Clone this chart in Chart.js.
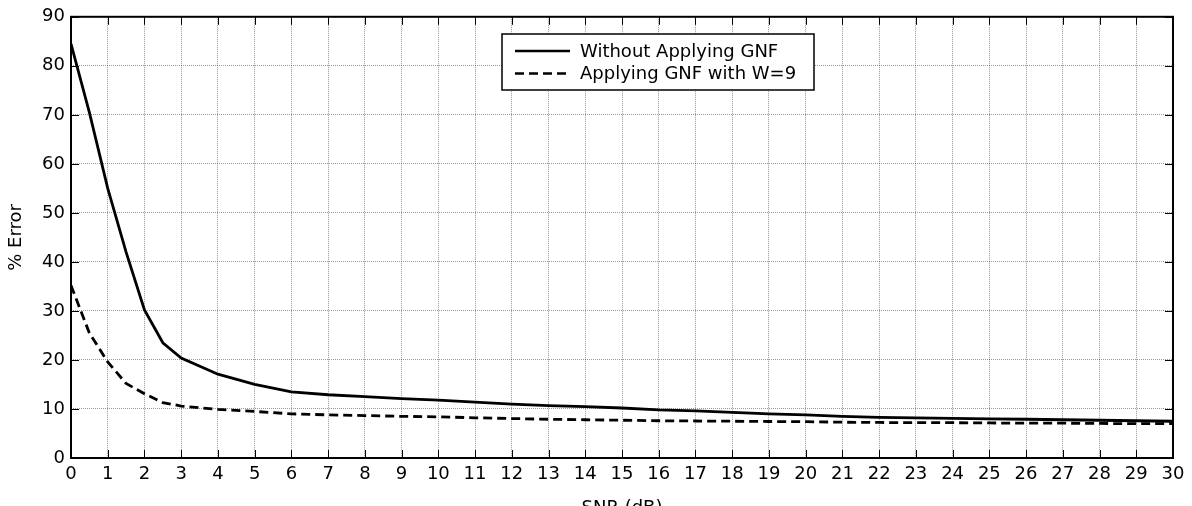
<!DOCTYPE html>
<html>
<head>
<meta charset="utf-8">
<script src="https://cdn.jsdelivr.net/npm/chart.js@4/dist/chart.umd.min.js"></script>
<style>
body{margin:0;background:#fff;}
#wrap{width:1192px;height:506px;position:relative;}
</style>
</head>
<body>
<div id="wrap"><canvas id="Grafico1"></canvas></div>
<script>
// SNR values (dB)
const snr=[0,0.5,1,1.5,2,2.5,3,4,5,6,7,8,9,10,11,12,13,14,15,16,17,18,19,20,21,22,23,24,25,26,27,28,29,30];
// % error without GNF
const sinGNF=[84.5,70.5,55,42,30.2,23.5,20.4,17.1,15,13.5,12.9,12.5,12.1,11.8,11.4,11.0,10.7,10.5,10.2,9.8,9.6,9.3,9.0,8.8,8.5,8.3,8.2,8.1,8.0,7.9,7.8,7.7,7.6,7.5];
// % error with GNF W=9
const conGNF=[35.2,25.5,19.6,15.2,13.1,11.3,10.6,9.9,9.5,9.0,8.8,8.65,8.5,8.4,8.2,8.05,7.9,7.8,7.7,7.6,7.55,7.5,7.45,7.4,7.3,7.25,7.2,7.2,7.15,7.1,7.1,7.05,7.0,7.0];
const etiquetas=['Without Applying GNF','Applying GNF with W=9'];
const ticksX=[];
for(let i=0;i<=30;i++){ticksX.push(i);}
const ticksY=[0,10,20,30,40,50,60,70,80,90];

const fuente='"DejaVu Sans", sans-serif';

function puntos(xs,ys){
    return xs.map((x,i)=>({x:x,y:ys[i]}));
}

// box, inward ticks and legend
const marco={
    id:'marco',
    afterDraw(chart){
        const ctx=chart.ctx;
        const a=chart.chartArea;
        const sx=chart.scales.x, sy=chart.scales.y;
        ctx.save();
        ctx.strokeStyle='#000';
        ctx.lineWidth=1;
        ticksX.forEach(v=>{
            const px=Math.round(sx.getPixelForValue(v))+0.5;
            ctx.beginPath();
            ctx.moveTo(px,a.bottom);ctx.lineTo(px,a.bottom-8);
            ctx.moveTo(px,a.top);ctx.lineTo(px,a.top+8);
            ctx.stroke();
        });
        ticksY.forEach(v=>{
            const py=Math.round(sy.getPixelForValue(v))+0.5;
            ctx.beginPath();
            ctx.moveTo(a.left,py);ctx.lineTo(a.left+8,py);
            ctx.moveTo(a.right,py);ctx.lineTo(a.right-8,py);
            ctx.stroke();
        });
        ctx.lineWidth=2;
        ctx.strokeRect(a.left,a.top,a.right-a.left,a.bottom-a.top);

        // legend
        const lx=502, ly=34, lw=312, lh=56;
        ctx.fillStyle='#fff';
        ctx.fillRect(lx,ly,lw,lh);
        ctx.lineWidth=1.5;
        ctx.strokeRect(lx,ly,lw,lh);
        ctx.font='18px '+fuente;
        ctx.textBaseline='middle';
        chart.data.datasets.forEach((ds,i)=>{
            const y=ly+17+i*22.5;
            ctx.strokeStyle='#000';
            ctx.lineWidth=2.5;
            ctx.setLineDash(ds.borderDash||[]);
            ctx.beginPath();
            ctx.moveTo(515,y);ctx.lineTo(570,y);
            ctx.stroke();
            ctx.setLineDash([]);
            ctx.fillStyle='#000';
            ctx.fillText(ds.label,580,y+1);
        });
        ctx.restore();
    }
};

let CanvasG1=document.getElementById('Grafico1').getContext('2d');
let datos={
    datasets:[
        {
            label:etiquetas[0],
            data:puntos(snr,sinGNF),
            borderColor:'#000',
            borderWidth:2.8,
            pointRadius:0,
            fill:false,
        },
        {
            label:etiquetas[1],
            data:puntos(snr,conGNF),
            borderColor:'#000',
            borderWidth:2.8,
            borderDash:[9,5],
            pointRadius:0,
            fill:false,
        },
    ]
};
let opciones={
    responsive:true,
    maintainAspectRatio:false,
    animation:false,
    layout:{padding:{top:13,right:19,left:0,bottom:0}},
    plugins:{legend:{display:false},tooltip:{enabled:false}},
    scales:{
        x:{
            type:'linear',
            min:0,max:30,
            afterBuildTicks(s){s.ticks=ticksX.map(v=>({value:v}));},
            afterFit(s){s.height=48;},
            grid:{color:'rgba(0,0,0,0.4)',lineWidth:1,drawTicks:false},
            border:{display:false,dash:[1,1]},
            ticks:{color:'#000',padding:6,maxRotation:0,autoSkip:false,font:{family:fuente,size:18}},
            title:{display:true,text:'SNR (dB)',color:'#000',font:{family:fuente,size:18,lineHeight:1},padding:{top:0,bottom:-11}},
        },
        y:{
            min:0,max:90,
            afterBuildTicks(s){s.ticks=ticksY.map(v=>({value:v}));},
            afterFit(s){s.width=71;},
            grid:{color:'rgba(0,0,0,0.4)',lineWidth:1,drawTicks:false},
            border:{display:false,dash:[1,1]},
            ticks:{color:'#000',padding:6,font:{family:fuente,size:18}},
            title:{display:true,text:'% Error',color:'#000',font:{family:fuente,size:18,lineHeight:1.2},padding:{top:6,bottom:0}},
        }
    }
};
let G1=new Chart(CanvasG1,{
    type:'line',
    data:datos,
    options:opciones,
    plugins:[marco],
});
</script>
</body>
</html>
